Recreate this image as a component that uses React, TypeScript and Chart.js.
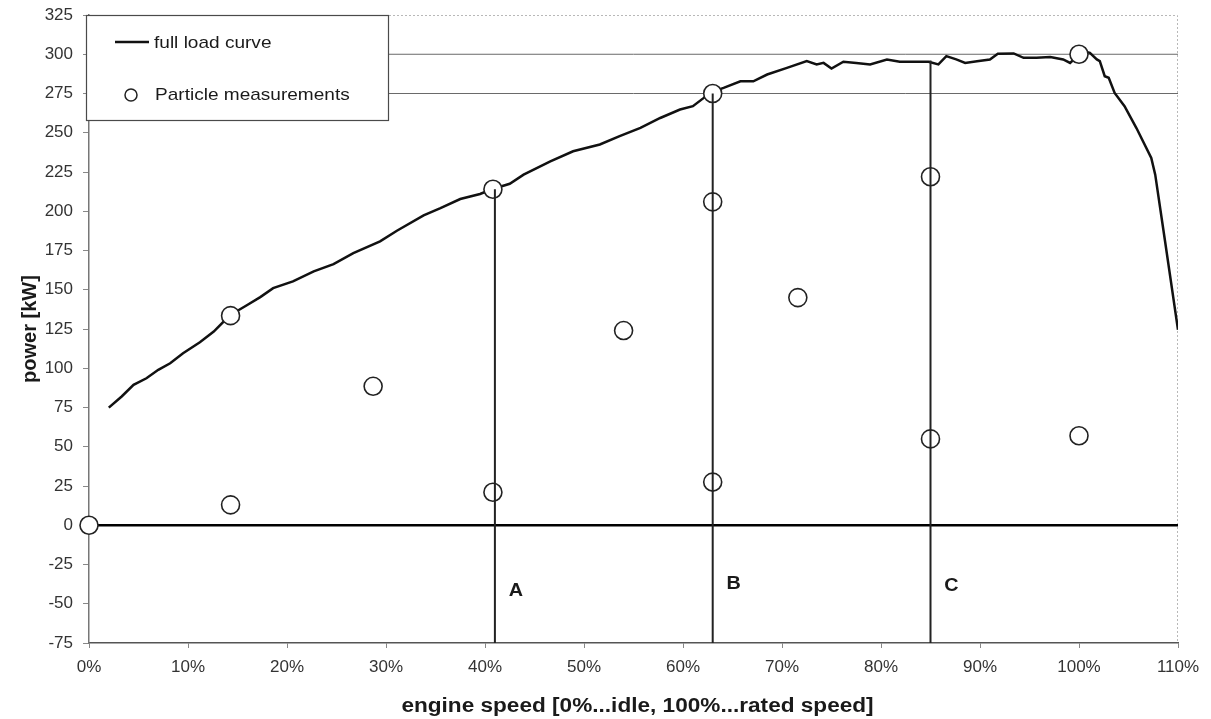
import React, { useEffect, useRef } from "react";
import { Chart, registerables } from "chart.js";

Chart.register(...registerables);

// Full load curve: engine speed [%] and power [kW]
const curveSpeed = [
  2.0, 3.3, 4.5, 5.8, 7.0, 8.2, 9.5, 11.2, 12.6, 14.2, 15.9, 17.3, 18.6, 20.6, 22.7, 24.7,
  26.7, 29.4, 31.1, 33.8, 35.5, 37.5, 39.5, 40.7, 42.5, 43.9, 46.6, 48.9, 51.6, 53.6, 55.7,
  57.7, 59.7, 61.0, 62.1, 62.7, 64.1, 65.8, 67.1, 68.5, 70.5, 72.5, 73.5, 74.2, 75.0, 76.2,
  77.5, 78.9, 80.6, 81.9, 83.6, 84.8, 85.8, 86.6, 87.6, 88.5, 89.7, 91.0, 91.8, 93.4, 94.4,
  95.7, 97.1, 98.4, 99.1, 100.4, 101.1, 101.8, 102.1, 102.6, 103.0, 103.6, 104.6, 105.8,
  107.3, 107.7, 108.7, 110.0,
];
const curvePower = [
  74.9, 82.0, 89.4, 93.6, 99.0, 103.2, 109.6, 116.6, 123.4, 133.6, 140.0, 145.3, 151.0, 155.3,
  161.7, 166.3, 173.3, 180.8, 187.6, 197.4, 202.0, 207.8, 211.0, 214.0, 217.5, 223.3, 231.8,
  238.2, 242.5, 247.8, 253.1, 259.4, 264.8, 266.9, 272.2, 275.4, 278.6, 282.8, 282.8, 287.1,
  291.3, 295.6, 293.5, 294.5, 290.9, 295.2, 294.5, 293.5, 296.7, 295.2, 295.2, 295.2, 293.5,
  298.8, 296.7, 294.5, 295.6, 296.7, 300.3, 300.5, 297.7, 297.7, 298.2, 296.7, 294.5, 302.0,
  300.9, 296.7, 295.6, 286.0, 285.0, 275.4, 266.9, 253.0, 233.9, 223.3, 180.6, 124.5,
];

// Particle measurement operating points
const measSpeed = [0, 14.3, 14.3, 28.7, 40.8, 40.8, 54.0, 63.0, 63.0, 63.0, 71.6, 85.0, 85.0, 100.0, 100.0];
const measPower = [0, 13, 133.5, 88.5, 21, 214, 124, 27.5, 206, 275, 145, 55, 222, 57, 300];

// Speed zones A / B / C: separating lines from the full load curve down to the axis
const zoneNames = ["A", "B", "C"];
const zoneSpeed = [41, 63, 85];
const zoneTop = [214, 275, 296];
const zoneLabelPower = [-42, -37.5, -38.5];

// Horizontal reference levels [kW]
const refPower = [275, 300];

// Axis ranges and ticks
const speedMin = 0;
const speedMax = 110;
const speedStep = 10;
const powerMin = -75;
const powerMax = 325;
const powerStep = 25;

const FONT = "'Liberation Sans', Arial, Helvetica, sans-serif";

function stretchedText(ctx: CanvasRenderingContext2D, text: string, x: number, y: number, sx: number, align: CanvasTextAlign) {
  ctx.save();
  ctx.translate(x, y);
  ctx.scale(sx, 1);
  ctx.textAlign = align;
  ctx.textBaseline = "middle";
  ctx.fillText(text, 0, 0);
  ctx.restore();
}

const decorPlugin = {
  id: "decor",
  beforeDatasetsDraw(chart: any) {
    const { ctx, chartArea: a } = chart;
    ctx.save();
    ctx.strokeStyle = "#b8b8b8";
    ctx.lineWidth = 1;
    ctx.setLineDash([2, 2]);
    ctx.beginPath();
    ctx.moveTo(a.left, a.top + 0.5);
    ctx.lineTo(a.right - 0.5, a.top + 0.5);
    ctx.lineTo(a.right - 0.5, a.bottom);
    ctx.stroke();
    ctx.restore();
  },
  afterDatasetsDraw(chart: any) {
    const { ctx, chartArea: a, scales } = chart;
    const xs = scales.x;
    const ys = scales.y;

    // zone letters
    ctx.save();
    ctx.fillStyle = "#1a1a1a";
    ctx.font = `bold 18px ${FONT}`;
    zoneNames.forEach((name, i) => {
      const px = xs.getPixelForValue(zoneSpeed[i]) + 21;
      const py = ys.getPixelForValue(zoneLabelPower[i]);
      stretchedText(ctx, name, px, py, 1.1, "center");
    });
    ctx.restore();

    // legend box
    const left = a.left - 3;
    const top = a.top;
    const right = a.left + 299;
    const bottom = a.top + 105;
    ctx.save();
    ctx.fillStyle = "#ffffff";
    ctx.fillRect(left, top, right - left, bottom - top);
    ctx.strokeStyle = "#4a4a4a";
    ctx.lineWidth = 1.2;
    ctx.strokeRect(left + 0.5, top + 0.5, right - left, bottom - top);

    ctx.strokeStyle = "#111111";
    ctx.lineWidth = 2.5;
    ctx.beginPath();
    ctx.moveTo(left + 29, top + 27);
    ctx.lineTo(left + 63, top + 27);
    ctx.stroke();

    ctx.fillStyle = "#ffffff";
    ctx.strokeStyle = "#222222";
    ctx.lineWidth = 1.5;
    ctx.beginPath();
    ctx.arc(left + 45, top + 80, 6, 0, Math.PI * 2);
    ctx.fill();
    ctx.stroke();

    ctx.fillStyle = "#1a1a1a";
    ctx.font = `17px ${FONT}`;
    stretchedText(ctx, "full load curve", left + 68, top + 28, 1.12, "left");
    stretchedText(ctx, "Particle measurements", left + 69, top + 80, 1.12, "left");
    ctx.restore();
  },
  afterDraw(chart: any) {
    const { ctx, chartArea: a, height } = chart;
    ctx.save();
    ctx.fillStyle = "#1a1a1a";
    ctx.font = `bold 20px ${FONT}`;
    stretchedText(ctx, "engine speed [0%...idle, 100%...rated speed]", (a.left + a.right) / 2 + 4, height - 13, 1.13, "center");
    ctx.translate(30, (a.top + a.bottom) / 2);
    ctx.rotate(-Math.PI / 2);
    ctx.textAlign = "center";
    ctx.textBaseline = "middle";
    ctx.fillText("power [kW]", 0, 0);
    ctx.restore();
  },
};

export default function App() {
  const canvasRef = useRef<HTMLCanvasElement | null>(null);

  useEffect(() => {
    document.body.style.margin = "0";
    const canvas = canvasRef.current;
    if (!canvas) return;

    const curve = curveSpeed.map((s, i) => ({ x: s, y: curvePower[i] }));
    const points = measSpeed.map((s, i) => ({ x: s, y: measPower[i] }));

    const zoneSets = zoneSpeed.map((s, i) => ({
      type: "line" as const,
      label: `zone ${zoneNames[i]}`,
      data: [
        { x: s, y: zoneTop[i] },
        { x: s, y: powerMin },
      ],
      borderColor: "#222222",
      borderWidth: 2,
      pointRadius: 0,
      order: 0,
    }));

    const refSets = refPower.map((p) => ({
      type: "line" as const,
      label: `${p} kW`,
      data: [
        { x: speedMin, y: p },
        { x: speedMax, y: p },
      ],
      borderColor: "#6a6a6a",
      borderWidth: 1,
      pointRadius: 0,
      order: 4,
    }));

    const chart = new Chart(canvas, {
      type: "scatter",
      data: {
        datasets: [
          ...zoneSets,
          {
            type: "scatter" as const,
            label: "Particle measurements",
            data: points,
            pointStyle: "circle",
            pointRadius: 9,
            pointBorderWidth: 1.6,
            pointBackgroundColor: "#ffffff",
            pointBorderColor: "#222222",
            clip: false,
            order: 1,
          },
          {
            type: "line" as const,
            label: "full load curve",
            data: curve,
            borderColor: "#111111",
            borderWidth: 2.5,
            pointRadius: 0,
            tension: 0,
            order: 2,
          },
          {
            type: "line" as const,
            label: "zero",
            data: [
              { x: speedMin, y: 0 },
              { x: speedMax, y: 0 },
            ],
            borderColor: "#000000",
            borderWidth: 2.5,
            pointRadius: 0,
            order: 3,
          },
          ...refSets,
        ],
      },
      options: {
        responsive: false,
        animation: false,
        devicePixelRatio: 1,
        layout: { padding: { top: 15, right: 33, left: 0, bottom: 0 } },
        plugins: {
          legend: { display: false },
          tooltip: { enabled: false },
          title: { display: false },
        },
        scales: {
          x: {
            type: "linear",
            min: speedMin,
            max: speedMax,
            afterFit: (s: any) => {
              s.height = 76;
              s.paddingLeft = 0;
              s.paddingRight = 0;
            },
            ticks: {
              stepSize: speedStep,
              padding: 9,
              color: "#333333",
              font: { family: FONT, size: 17 },
              callback: (v: any) => `${v}%`,
            },
            grid: { drawOnChartArea: false, drawTicks: true, tickLength: 5, color: "#888888" },
            border: { display: true, color: "#555555", width: 1.5 },
          },
          y: {
            type: "linear",
            min: powerMin,
            max: powerMax,
            afterFit: (s: any) => {
              s.width = 89;
              s.paddingTop = 0;
              s.paddingBottom = 0;
            },
            ticks: {
              stepSize: powerStep,
              padding: 10,
              color: "#333333",
              font: { family: FONT, size: 17 },
            },
            grid: { drawOnChartArea: false, drawTicks: true, tickLength: 6, color: "#888888" },
            border: { display: true, color: "#777777", width: 1.5 },
          },
        },
      },
      plugins: [decorPlugin],
    });

    return () => chart.destroy();
  }, []);

  return (
    <div style={{ width: 1211, height: 719, background: "#ffffff" }}>
      <canvas ref={canvasRef} width={1211} height={719} style={{ display: "block" }} />
    </div>
  );
}
